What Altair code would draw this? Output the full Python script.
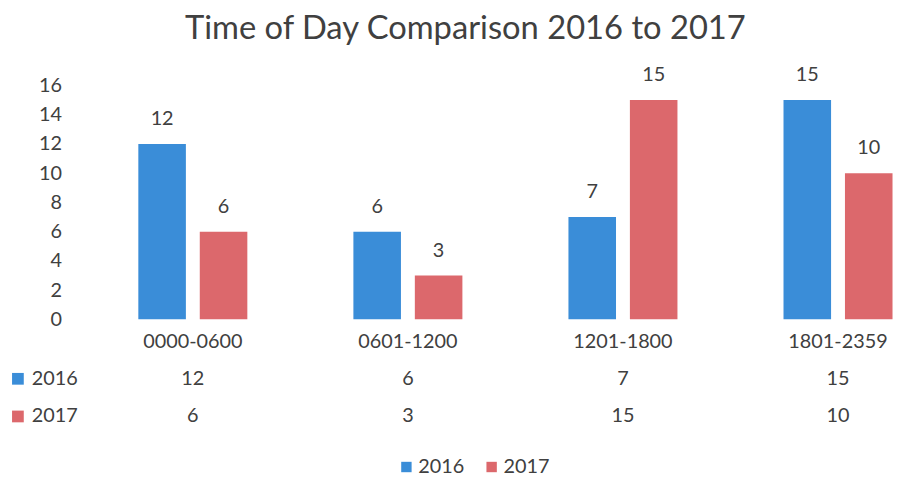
import altair as alt
import pandas as pd

categories = ["0000-0600", "0601-1200", "1201-1800", "1801-2359"]
years = ["2016", "2017"]
values_2016 = [12, 6, 7, 15]
values_2017 = [6, 3, 15, 10]
y_ticks = [0, 2, 4, 6, 8, 10, 12, 14, 16]
colors = ["#3a8dd8", "#dc686c"]
title_text = "Time of Day Comparison 2016 to 2017"

rows = []
for year, vals in zip(years, [values_2016, values_2017]):
    for cat, v in zip(categories, vals):
        rows.append({"slot": cat, "year": year, "count": v})
df = pd.DataFrame(rows)
years_df = pd.DataFrame({"year": years})

FONT = "Lato"
TXT = "#404040"
FS = 20

color = alt.Color(
    "year:N",
    scale=alt.Scale(domain=years, range=colors),
    legend=alt.Legend(
        orient="none", legendX=314, legendY=375, direction="horizontal",
        title=None, symbolType="square", symbolSize=110, symbolStrokeWidth=0,
        labelFontSize=FS, labelFont=FONT, labelColor=TXT, labelOffset=2,
        columnPadding=17, padding=0,
    ),
)

x = alt.X(
    "slot:N", sort=categories, title=None,
    scale=alt.Scale(domain=categories, range=[0, 868], paddingInner=0, paddingOuter=0),
    axis=alt.Axis(labelAngle=0, labelFontSize=FS, labelFont=FONT, labelColor=TXT,
                  ticks=False, tickSize=0, domain=False, labelPadding=12, grid=False),
)
xoff = alt.XOffset("year:N", sort=years,
                   scale=alt.Scale(domain=years, paddingInner=0.226, paddingOuter=0.863))
y = alt.Y(
    "count:Q", title=None,
    scale=alt.Scale(domain=[0, 16], nice=False),
    axis=alt.Axis(values=y_ticks, labelFontSize=FS, labelFont=FONT, labelColor=TXT,
                  ticks=False, tickSize=0, domain=False, grid=False, labelPadding=24),
)

base = alt.Chart(df)
bars = base.mark_bar().encode(x=x, xOffset=xoff, y=y, color=color)
value_labels = base.mark_text(dy=-15, baseline="bottom", fontSize=FS, font=FONT, color=TXT).encode(
    x=x, xOffset=xoff, y=y, text="count:Q"
)

layers = [bars, value_labels]
row_y = {"2016": 296, "2017": 334}
for i, yr in enumerate(years):
    sub = base.transform_filter(alt.datum.year == yr)
    layers.append(
        sub.mark_text(fontSize=FS, font=FONT, color=TXT, baseline="middle").encode(
            x=x, y=alt.value(row_y[yr]), text="count:Q"
        )
    )
    hdr = alt.Chart(years_df).transform_filter(alt.datum.year == yr)
    layers.append(
        hdr.mark_point(shape="square", filled=True, size=140, opacity=1, color=colors[i]).encode(
            x=alt.value(-68), y=alt.value(row_y[yr])
        )
    )
    layers.append(
        hdr.mark_text(align="left", baseline="middle", fontSize=FS, font=FONT, color=TXT).encode(
            x=alt.value(-54), y=alt.value(row_y[yr]), text="year:N"
        )
    )

chart = alt.layer(*layers).properties(
    width=817,
    height=236,
    title=alt.TitleParams(title_text, fontSize=33, font=FONT, fontWeight="normal", color=TXT,
                          anchor="middle", dx=-25, dy=13, offset=0, baseline="bottom"),
    autosize=alt.AutoSizeParams(type="none"),
    padding={"left": 78, "top": 76, "right": 0, "bottom": 164},
).configure(background="white").configure_view(stroke=None)

chart.save("out.html", embed_options={"renderer": "svg", "actions": False})
